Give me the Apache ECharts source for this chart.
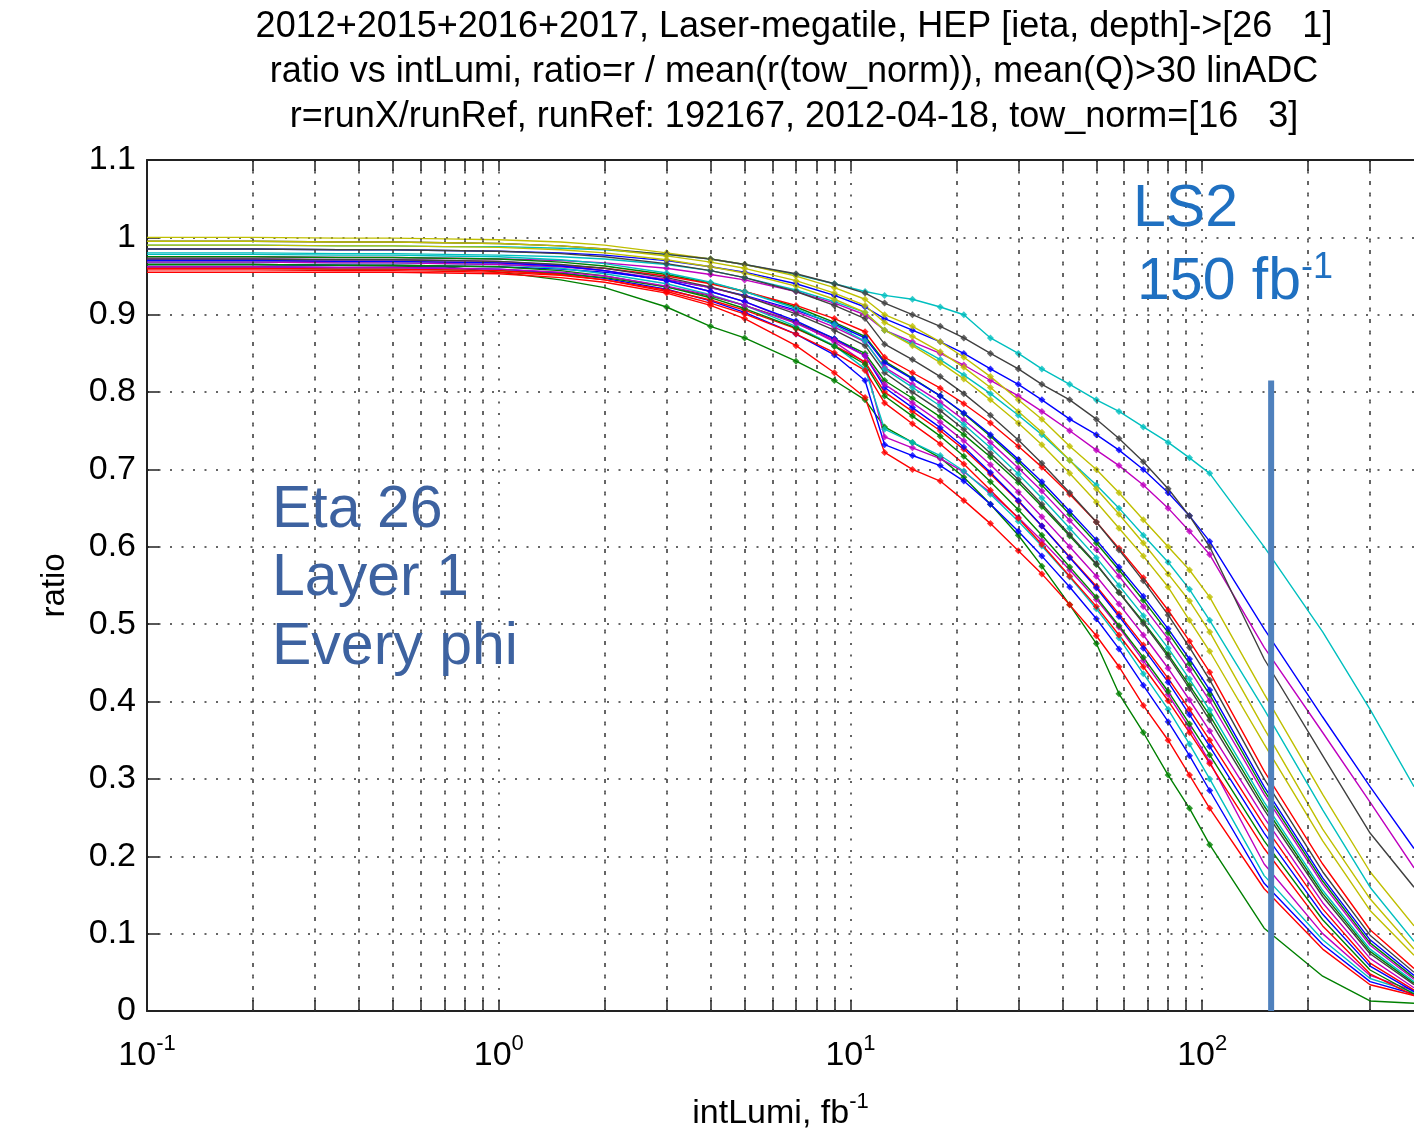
<!DOCTYPE html>
<html><head><meta charset="utf-8">
<script src="https://cdn.jsdelivr.net/npm/echarts@6/dist/echarts.min.js"></script>
<style>html,body{margin:0;padding:0;background:#fff}#c{width:1414px;height:1136px}</style>
</head><body><div id="c"></div>
<script>
// ---------------- DATA ----------------
const titleLines = [
  '2012+2015+2016+2017, Laser-megatile, HEP [ieta, depth]->[26   1]',
  'ratio vs intLumi, ratio=r / mean(r(tow_norm)), mean(Q)>30 linADC',
  'r=runX/runRef, runRef: 192167, 2012-04-18, tow_norm=[16   3]'
];
const yTicks = [0,0.1,0.2,0.3,0.4,0.5,0.6,0.7,0.8,0.9,1,1.1];
const majorLumi = [0.1, 1, 10, 100];
const minorLumi = [0.2,0.3,0.4,0.5,0.6,0.7,0.8,0.9, 2,3,4,5,6,7,8,9, 20,30,40,50,60,70,80,90, 200,300];
// integrated luminosity (fb^-1) at which each phi curve is sampled
const lumiGrid = [0.1,0.2,0.35,0.5,0.7,1,1.5,2,3,4,5,7,9,11,12.5,15,18,21,25,30,35,42,50,58,68,80,92,105,150,220,300,400];
const markerRange = [3, 105];
// ratio per phi (series order follows MATLAB colour order b,g,r,c,m,y,k)
const ratioB1 = [0.985,0.985,0.984,0.984,0.983,0.982,0.980,0.977,0.970,0.962,0.955,0.940,0.925,0.910,0.895,0.880,0.865,0.850,0.830,0.810,0.790,0.765,0.745,0.725,0.700,0.670,0.640,0.607,0.494,0.380,0.290,0.210];
const ratioG1 = [0.965,0.965,0.964,0.963,0.962,0.955,0.945,0.935,0.910,0.885,0.870,0.840,0.815,0.790,0.755,0.735,0.715,0.690,0.655,0.615,0.575,0.525,0.475,0.410,0.360,0.305,0.262,0.215,0.107,0.045,0.013,0.010];
const ratioR1 = [0.955,0.955,0.955,0.955,0.954,0.953,0.948,0.942,0.928,0.912,0.895,0.860,0.825,0.793,0.722,0.700,0.685,0.660,0.630,0.595,0.565,0.525,0.485,0.445,0.395,0.350,0.305,0.262,0.158,0.080,0.034,0.020];
const ratioC1 = [0.990,0.990,0.989,0.989,0.988,0.988,0.986,0.984,0.978,0.972,0.965,0.952,0.940,0.930,0.925,0.920,0.910,0.900,0.870,0.850,0.830,0.810,0.790,0.775,0.755,0.735,0.715,0.695,0.600,0.490,0.390,0.290];
const ratioM1 = [0.975,0.975,0.974,0.974,0.973,0.972,0.970,0.967,0.960,0.952,0.945,0.930,0.915,0.900,0.880,0.865,0.850,0.835,0.815,0.795,0.775,0.750,0.725,0.705,0.680,0.650,0.620,0.590,0.470,0.360,0.270,0.185];
const ratioY1 = [1.000,1.000,0.999,0.999,0.998,0.997,0.994,0.990,0.980,0.972,0.965,0.950,0.935,0.920,0.900,0.885,0.865,0.845,0.820,0.790,0.765,0.730,0.700,0.670,0.635,0.600,0.570,0.535,0.410,0.280,0.180,0.110];
const ratioK1 = [0.995,0.995,0.994,0.994,0.993,0.992,0.989,0.985,0.978,0.972,0.965,0.953,0.940,0.928,0.915,0.900,0.885,0.870,0.850,0.830,0.810,0.790,0.765,0.740,0.710,0.675,0.640,0.600,0.455,0.330,0.230,0.160];
const ratioB2 = [0.962,0.962,0.961,0.961,0.960,0.959,0.954,0.947,0.933,0.918,0.903,0.875,0.848,0.815,0.732,0.718,0.705,0.685,0.655,0.620,0.588,0.548,0.507,0.468,0.421,0.374,0.330,0.285,0.165,0.086,0.038,0.022];
const ratioG2 = [0.975,0.975,0.974,0.974,0.973,0.972,0.968,0.963,0.952,0.941,0.930,0.910,0.890,0.872,0.840,0.818,0.795,0.772,0.743,0.710,0.680,0.642,0.605,0.570,0.531,0.489,0.449,0.409,0.285,0.168,0.088,0.043];
const ratioR2 = [0.970,0.970,0.969,0.969,0.968,0.967,0.964,0.960,0.950,0.940,0.930,0.912,0.895,0.878,0.845,0.825,0.805,0.785,0.760,0.730,0.703,0.668,0.632,0.598,0.560,0.518,0.478,0.438,0.310,0.190,0.105,0.055];
const ratioC2 = [0.980,0.980,0.979,0.979,0.978,0.977,0.975,0.972,0.965,0.957,0.948,0.932,0.917,0.903,0.880,0.862,0.842,0.822,0.798,0.770,0.745,0.712,0.680,0.650,0.615,0.580,0.545,0.505,0.390,0.260,0.160,0.090];
const ratioM2 = [0.972,0.972,0.971,0.971,0.970,0.969,0.964,0.957,0.944,0.930,0.917,0.890,0.865,0.838,0.742,0.728,0.714,0.697,0.670,0.638,0.608,0.570,0.532,0.496,0.453,0.409,0.366,0.322,0.190,0.100,0.046,0.026];
const ratioY2 = [0.995,0.995,0.994,0.994,0.993,0.992,0.989,0.985,0.976,0.968,0.960,0.944,0.928,0.912,0.890,0.872,0.852,0.832,0.806,0.775,0.748,0.712,0.675,0.642,0.605,0.565,0.530,0.490,0.365,0.235,0.145,0.080];
const ratioK2 = [0.985,0.985,0.984,0.984,0.983,0.982,0.979,0.975,0.966,0.957,0.948,0.930,0.912,0.895,0.862,0.842,0.820,0.798,0.770,0.738,0.708,0.670,0.632,0.596,0.556,0.512,0.470,0.428,0.300,0.180,0.098,0.050];
const ratioB3 = [0.965,0.965,0.964,0.964,0.963,0.962,0.959,0.955,0.945,0.935,0.925,0.906,0.888,0.870,0.838,0.817,0.795,0.773,0.745,0.713,0.684,0.646,0.609,0.574,0.536,0.494,0.455,0.415,0.290,0.172,0.092,0.046];
const ratioG3 = [0.960,0.960,0.959,0.959,0.958,0.957,0.953,0.948,0.936,0.924,0.912,0.890,0.869,0.850,0.815,0.792,0.768,0.745,0.716,0.683,0.652,0.614,0.577,0.541,0.503,0.461,0.421,0.382,0.265,0.152,0.077,0.036];
const ratioR3 = [0.958,0.958,0.957,0.957,0.956,0.955,0.951,0.945,0.932,0.919,0.906,0.882,0.860,0.839,0.800,0.775,0.750,0.726,0.694,0.659,0.627,0.587,0.549,0.513,0.473,0.430,0.390,0.350,0.240,0.132,0.062,0.027];
const ratioC3 = [0.968,0.968,0.967,0.967,0.966,0.965,0.960,0.953,0.940,0.926,0.912,0.885,0.860,0.830,0.752,0.735,0.718,0.698,0.668,0.633,0.601,0.561,0.520,0.482,0.436,0.390,0.345,0.300,0.175,0.092,0.042,0.024];
const ratioM3 = [0.968,0.968,0.967,0.967,0.966,0.965,0.962,0.957,0.946,0.935,0.924,0.904,0.884,0.865,0.832,0.810,0.787,0.764,0.735,0.702,0.672,0.634,0.597,0.562,0.523,0.481,0.441,0.401,0.280,0.164,0.085,0.041];
const ratioY3 = [0.990,0.990,0.989,0.989,0.988,0.987,0.984,0.980,0.971,0.962,0.954,0.937,0.920,0.903,0.880,0.860,0.838,0.817,0.790,0.760,0.732,0.695,0.658,0.624,0.588,0.548,0.505,0.465,0.345,0.220,0.130,0.072];
const ratioK3 = [0.972,0.972,0.971,0.971,0.970,0.969,0.965,0.960,0.948,0.936,0.924,0.901,0.880,0.860,0.825,0.800,0.776,0.752,0.721,0.687,0.655,0.616,0.578,0.541,0.501,0.458,0.417,0.376,0.260,0.148,0.074,0.034];
const ratioB4 = [0.970,0.970,0.969,0.969,0.968,0.967,0.963,0.957,0.944,0.930,0.917,0.892,0.869,0.847,0.806,0.780,0.754,0.729,0.696,0.660,0.627,0.586,0.547,0.510,0.469,0.425,0.383,0.342,0.230,0.125,0.058,0.025];
const ratioG4 = [0.965,0.965,0.964,0.964,0.963,0.962,0.957,0.950,0.936,0.922,0.908,0.883,0.859,0.836,0.795,0.769,0.743,0.717,0.684,0.648,0.615,0.574,0.535,0.498,0.457,0.413,0.371,0.331,0.220,0.118,0.053,0.022];
const ratioR4 = [0.960,0.960,0.959,0.959,0.958,0.957,0.952,0.945,0.930,0.915,0.901,0.875,0.851,0.828,0.786,0.759,0.733,0.707,0.673,0.637,0.603,0.562,0.523,0.486,0.445,0.401,0.360,0.320,0.210,0.110,0.048,0.020];
const ratioC4 = [0.978,0.978,0.977,0.977,0.976,0.975,0.971,0.966,0.954,0.942,0.930,0.908,0.887,0.866,0.830,0.806,0.782,0.758,0.728,0.694,0.663,0.624,0.586,0.550,0.511,0.469,0.429,0.389,0.270,0.156,0.080,0.038];
const ratioM4 = [0.962,0.962,0.961,0.961,0.960,0.959,0.955,0.950,0.937,0.925,0.912,0.889,0.867,0.847,0.810,0.786,0.761,0.737,0.706,0.671,0.639,0.600,0.562,0.526,0.486,0.443,0.402,0.362,0.250,0.140,0.068,0.030];
const ls2Lumi = 157;
const ls2Top = 0.815;

const curves = [ratioB1,ratioG1,ratioR1,ratioC1,ratioM1,ratioY1,ratioK1,
                ratioB2,ratioG2,ratioR2,ratioC2,ratioM2,ratioY2,ratioK2,
                ratioB3,ratioG3,ratioR3,ratioC3,ratioM3,ratioY3,ratioK3,
                ratioB4,ratioG4,ratioR4,ratioC4,ratioM4];

// ---------------- CHART ----------------
const FONT = '"Liberation Sans", Arial, sans-serif';
const palette = ['#0000ff','#008000','#ff0000','#00bfbf','#bf00bf','#bfbf00','#404040'];
const chart = echarts.init(document.getElementById('c'), null, {renderer: 'canvas'});

const series = [];
// minor grid lines
series.push({
  type: 'line', data: [], silent: true, z: 0,
  markLine: {
    silent: true, symbol: 'none', label: {show: false}, animation: false,
    lineStyle: {color: '#333', type: [2, 9.5], width: 1.5},
    data: minorLumi.map(v => ({xAxis: v}))
  }
});
curves.forEach((vals, i) => {
  const col = palette[i % 7];
  const pts = lumiGrid.map((x, j) => [x, vals[j]]);
  series.push({type: 'line', data: pts, showSymbol: false, symbol: 'none', silent: true, z: 2,
    lineStyle: {width: 1.4, color: col}, itemStyle: {color: col}});
  series.push({type: 'scatter', silent: true, z: 3,
    data: pts.filter(p => p[0] >= markerRange[0] && p[0] <= markerRange[1]),
    symbol: 'diamond', symbolSize: 7, itemStyle: {color: col}});
});
series.push({type: 'line', data: [[ls2Lumi, 0], [ls2Lumi, ls2Top]], showSymbol: false, symbol: 'none', silent: true, z: 10,
  lineStyle: {width: 6, color: '#4f81bd'}});

const allTicks = majorLumi.concat(minorLumi);
const supRich = {
  b: {fontFamily: FONT, fontSize: 34, color: '#000'},
  s: {fontFamily: FONT, fontSize: 22, color: '#000', padding: [0, 0, 24, 0]}
};
const gridLine = {show: true, lineStyle: {color: '#333', type: [2, 9.5], width: 1.5}};

chart.setOption({
  animation: false,
  backgroundColor: '#fff',
  grid: {left: 147, right: 0, top: 160, bottom: 123, containLabel: false},
  xAxis: [{
    type: 'log', logBase: 10, min: 0.1, max: 400, position: 'bottom',
    axisLine: {show: true, onZero: false, lineStyle: {color: '#222', width: 2}},
    axisTick: {show: true, inside: true, length: 11, customValues: allTicks, lineStyle: {color: '#222', width: 1.5}},
    splitLine: gridLine,
    minorTick: {show: false}, minorSplitLine: {show: false},
    axisLabel: {
      margin: 22, showMaxLabel: false,
      formatter: v => {
        const e = Math.log10(v);
        if (Math.abs(e - Math.round(e)) > 1e-6) return '';
        return '{b|10}{s|' + Math.round(e) + '}';
      },
      rich: supRich
    },
    name: '{b|intLumi, fb}{s|-1}', nameLocation: 'middle', nameGap: 80,
    nameTextStyle: {rich: supRich}
  }, {
    type: 'log', logBase: 10, min: 0.1, max: 400, position: 'top',
    axisLine: {show: true, onZero: false, lineStyle: {color: '#222', width: 2}},
    axisTick: {show: true, inside: true, length: 11, customValues: allTicks, lineStyle: {color: '#222', width: 1.5}},
    axisLabel: {show: false}, splitLine: {show: false}
  }],
  yAxis: {
    type: 'value', min: 0, max: 1.1, interval: 0.1,
    axisLine: {show: true, onZero: false, lineStyle: {color: '#222', width: 2}},
    axisTick: {show: true, inside: true, length: 12, lineStyle: {color: '#222', width: 1.5}},
    splitLine: gridLine,
    axisLabel: {fontFamily: FONT, fontSize: 34, color: '#000', margin: 11,
      formatter: v => String(Math.round(v * 10) / 10)},
    name: 'ratio', nameLocation: 'middle', nameGap: 76,
    nameTextStyle: {fontFamily: FONT, fontSize: 33, color: '#000'}
  },
  series: series,
  graphic: [
    {type: 'text', x: 794, y: 5, z: 100, style: {
      text: titleLines.join('\n'), font: '36px ' + FONT, fill: '#000',
      textAlign: 'center', lineHeight: 45}},
    {type: 'text', x: 272, y: 476, z: 100, style: {
      text: 'Eta 26\nLayer 1\nEvery phi', font: '59px ' + FONT, fill: '#3d62a0', lineHeight: 68.5}},
    {type: 'text', x: 1133, y: 180, z: 100, style: {
      text: 'LS2', font: '59px ' + FONT, fill: '#1f70c1'}},
    {type: 'text', x: 1137, y: 250, z: 100, style: {
      text: '{a|150 fb}{s|-1}', font: '59px ' + FONT, fill: '#1f70c1',
      rich: {a: {fontSize: 59, fontFamily: FONT, fill: '#1f70c1'}, s: {fontSize: 36, fontFamily: FONT, fill: '#1f70c1', padding: [0, 0, 30, 0]}}}}
  ]
});
</script></body></html>
